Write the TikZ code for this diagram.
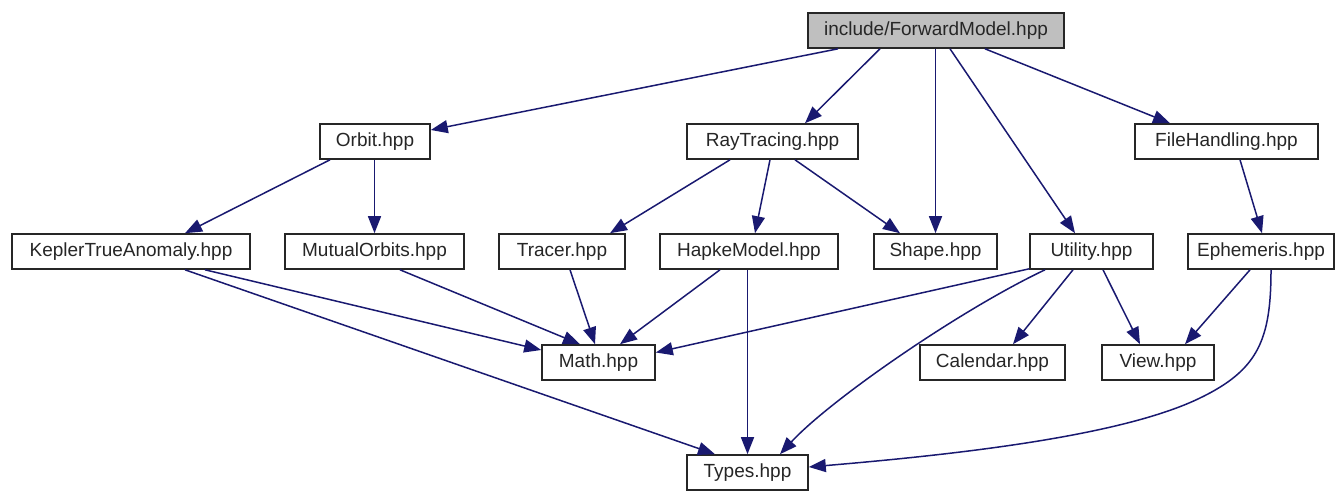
\documentclass[tikz,border=0pt]{standalone}
\usepackage{fontspec}
\setmainfont{Liberation Sans}
\usetikzlibrary{arrows.meta}
\definecolor{edgeblue}{HTML}{191970}
\definecolor{rootgray}{HTML}{BFBFBF}
\tikzset{
  file/.style={draw=black!85, line width=1.6pt, fill=white, minimum height=35pt,
    inner sep=0pt, font=\fontsize{19}{22}\selectfont, text=black!85},
  root/.style={file, fill=rootgray},
  dep/.style={draw=edgeblue, line width=1.5pt,
    -{Triangle[length=17pt,width=13pt]}, edgeblue}
}
\begin{document}
\begin{tikzpicture}[x=1pt,y=-1pt]
\useasboundingbox (0,0) rectangle (1343,490);
% file nodes
\node[root, minimum width=256pt] (fm) at (936,30.5) {include/ForwardModel.hpp};
\node[file, minimum width=110pt] (orbit) at (375,141.5) {Orbit.hpp};
\node[file, minimum width=171pt] (rt) at (772.5,141.5) {RayTracing.hpp};
\node[file, minimum width=183pt] (fh) at (1226.5,141.5) {FileHandling.hpp};
\node[file, minimum width=238pt] (kepler) at (131,251.5) {KeplerTrueAnomaly.hpp};
\node[file, minimum width=179pt] (mutual) at (374.5,251.5) {MutualOrbits.hpp};
\node[file, minimum width=126pt] (tracer) at (562,251.5) {Tracer.hpp};
\node[file, minimum width=178pt] (hapke) at (749,251.5) {HapkeModel.hpp};
\node[file, minimum width=123pt] (shape) at (935.5,251.5) {Shape.hpp};
\node[file, minimum width=123pt] (util) at (1091.5,251.5) {Utility.hpp};
\node[file, minimum width=146pt] (eph) at (1261,251.5) {Ephemeris.hpp};
\node[file, minimum width=113pt] (math) at (598.5,362.5) {Math.hpp};
\node[file, minimum width=145pt] (cal) at (992.5,362.5) {Calendar.hpp};
\node[file, minimum width=112pt] (view) at (1158,362.5) {View.hpp};
\node[file, minimum width=121pt] (types) at (747.5,472.5) {Types.hpp};
% include dependencies
\draw[dep] ([xshift=-98pt]fm.south) -- ([yshift=11.5pt]orbit.east);
\draw[dep] ([xshift=-56pt]fm.south) -- ([xshift=32.5pt]rt.north);
\draw[dep] (shape.north |- fm.south) -- (shape.north);
\draw[dep] ([xshift=14pt]fm.south) -- ([xshift=-16.5pt]util.north);
\draw[dep] ([xshift=49pt]fm.south) -- ([xshift=-56.5pt]fh.north);
\draw[dep] ([xshift=-45pt]orbit.south) -- ([xshift=54pt]kepler.north);
\draw[dep] (mutual.north |- orbit.south) -- (mutual.north);
\draw[dep] ([xshift=-42.5pt]rt.south) -- ([xshift=48pt]tracer.north);
\draw[dep] ([xshift=-2.5pt]rt.south) -- ([xshift=6pt]hapke.north);
\draw[dep] ([xshift=22.5pt]rt.south) -- ([xshift=-35.5pt]shape.north);
\draw[dep] ([xshift=13.5pt]fh.south) -- ([xshift=1pt]eph.north);
\draw[dep] ([xshift=74pt]kepler.south) -- ([yshift=12.5pt]math.west);
\draw[dep] ([xshift=54pt]kepler.south) -- ([xshift=-32.5pt]types.north);
\draw[dep] ([xshift=25.5pt]mutual.south) -- ([xshift=-18.5pt]math.north);
\draw[dep] ([xshift=8pt]tracer.south) -- ([xshift=-3.5pt]math.north);
\draw[dep] ([xshift=-29pt]hapke.south) -- ([xshift=21.5pt]math.north);
\draw[dep] (types.north |- hapke.south) -- (types.north);
\draw[dep] ([yshift=1pt]util.south west) -- ([yshift=10pt]math.east);
\draw[dep] ([xshift=-46.5pt]util.south) .. controls (960,310) and (830,400) .. ([xshift=32.5pt]types.north);
\draw[dep] ([xshift=-18.5pt]util.south) -- ([xshift=20.5pt]cal.north);
\draw[dep] ([xshift=11.5pt]util.south) -- ([xshift=-18pt]view.north);
\draw[dep] ([xshift=-11pt]eph.south) -- ([xshift=27pt]view.north);
\draw[dep] ([xshift=10pt]eph.south) .. controls (1271,340) and (1258,370) .. (1200,398)
  .. controls (1120,437) and (950,455) .. ([yshift=5.5pt]types.east);
\end{tikzpicture}
\end{document}
